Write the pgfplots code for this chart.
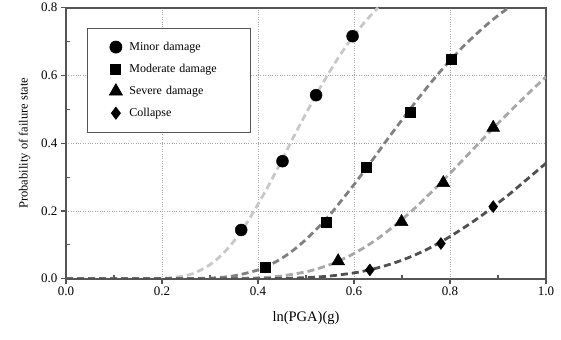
\documentclass[border=0pt]{standalone}
\usepackage{fontspec}
\setmainfont{Liberation Serif}
\usepackage{pgfplots}
\pgfplotsset{compat=1.18}
\definecolor{cMinor}{HTML}{C8C8C8}
\definecolor{cMod}{HTML}{808080}
\definecolor{cSev}{HTML}{A8A8A8}
\definecolor{cCol}{HTML}{505050}
\definecolor{axc}{HTML}{555555}
\begin{document}
\begin{tikzpicture}
\begin{axis}[
  scale only axis, width=480pt, height=271pt,
  xmin=0, xmax=1, ymin=0, ymax=0.8,
  xtick={0,0.2,...,1.0}, ytick={0,0.2,...,0.8},
  minor x tick num=1, minor y tick num=1,
  tick pos=left, tick align=outside,
  major tick length=5pt, minor tick length=-4pt,
  tick style={axc, line width=1.2pt},
  axis line style={axc, line width=1.6pt},
  grid=major, major grid style={gray!70, dotted, line width=0.8pt},
  /pgf/number format/assume math mode=true,
  xticklabel style={/pgf/number format/fixed, /pgf/number format/fixed zerofill, /pgf/number format/precision=1, font=\fontsize{13}{13}\selectfont},
  yticklabel style={/pgf/number format/fixed, /pgf/number format/fixed zerofill, /pgf/number format/precision=1, font=\fontsize{13}{13}\selectfont},
  xlabel={ln(PGA)(g)}, ylabel={Probability of failure state},
  xlabel style={font=\fontsize{14.5}{15}\selectfont, yshift=-8pt},
  ylabel style={font=\fontsize{12.5}{13}\selectfont, yshift=4pt},
  legend style={at={(rel axis cs:0.04375,0.926)}, anchor=north west, draw=axc, line width=0.8pt,
    font=\fontsize{12}{12}\selectfont, inner xsep=22pt, inner ysep=12pt, row sep=8pt,
    /tikz/every odd column/.append style={column sep=5pt},
    /tikz/every even column/.append style={text width=97pt}},
  legend cell align=left,
  clip=true,
]
% fitted curves
\addplot[cMinor, line width=2.8pt, dash pattern=on 7pt off 4pt, smooth, forget plot] coordinates {
(0,0)(0.1,0)(0.2,0.001)(0.25,0.0096)(0.275,0.0217)(0.3,0.0415)(0.325,0.0713)(0.35,0.111)(0.375,0.161)(0.4,0.220)(0.425,0.283)(0.45,0.351)(0.475,0.421)(0.5,0.488)(0.525,0.553)(0.55,0.613)(0.575,0.669)(0.6,0.718)(0.625,0.762)(0.65,0.800)};
\addplot[cMod, line width=2.8pt, dash pattern=on 7pt off 4pt, smooth, forget plot] coordinates {
(0,0)(0.1,0)(0.2,0)(0.3,0.0019)(0.35,0.0085)(0.4,0.026)(0.425,0.041)(0.45,0.0606)(0.475,0.0858)(0.5,0.116)(0.525,0.151)(0.55,0.189)(0.575,0.233)(0.6,0.278)(0.625,0.325)(0.65,0.373)(0.675,0.422)(0.7,0.469)(0.725,0.516)(0.75,0.561)(0.775,0.604)(0.8,0.644)(0.825,0.682)(0.85,0.716)(0.875,0.748)(0.9,0.777)(0.925,0.803)};
\addplot[cSev, line width=2.8pt, dash pattern=on 7pt off 4pt, smooth, forget plot] coordinates {
(0,0)(0.1,0)(0.2,0)(0.3,0)(0.4,0.0027)(0.45,0.0084)(0.5,0.0205)(0.525,0.0299)(0.55,0.0418)(0.575,0.0568)(0.6,0.0745)(0.625,0.0954)(0.65,0.119)(0.675,0.146)(0.7,0.175)(0.725,0.206)(0.75,0.240)(0.775,0.275)(0.8,0.311)(0.825,0.348)(0.85,0.385)(0.875,0.422)(0.9,0.459)(0.925,0.494)(0.95,0.529)(0.975,0.563)(1.0,0.596)};
\addplot[cCol, line width=2.8pt, dash pattern=on 7pt off 4pt, smooth, forget plot] coordinates {
(0,0)(0.1,0)(0.2,0)(0.3,0)(0.4,0)(0.45,0.001)(0.5,0.0033)(0.55,0.0081)(0.6,0.0173)(0.625,0.024)(0.65,0.0324)(0.675,0.0427)(0.7,0.0548)(0.725,0.069)(0.75,0.0853)(0.775,0.104)(0.8,0.1245)(0.825,0.147)(0.85,0.1706)(0.875,0.196)(0.9,0.2236)(0.925,0.251)(0.95,0.281)(0.975,0.311)(1.0,0.341)};
% data points
\addplot[only marks, mark=*, mark size=6pt, black] coordinates {(0.365,0.144)(0.451,0.347)(0.521,0.542)(0.597,0.716)};
\addlegendentry{Minor damage}
\addplot[only marks, mark=square*, mark size=5pt, black] coordinates {(0.415,0.035)(0.542,0.166)(0.625,0.328)(0.717,0.493)(0.802,0.647)};
\addlegendentry{Moderate damage}
\addplot[only marks, mark=triangle*, mark size=7.5pt, black] coordinates {(0.567,0.052)(0.699,0.168)(0.786,0.283)(0.890,0.446)};
\addlegendentry{Severe damage}
\addplot[only marks, mark=diamond*, mark size=6pt, black] coordinates {(0.633,0.026)(0.781,0.104)(0.890,0.213)};
\addlegendentry{Collapse}
\end{axis}
\path ([shift={(-66pt,-61pt)}]current axis.south west) rectangle ([shift={(15pt,6pt)}]current axis.north east);
\end{tikzpicture}
\end{document}
